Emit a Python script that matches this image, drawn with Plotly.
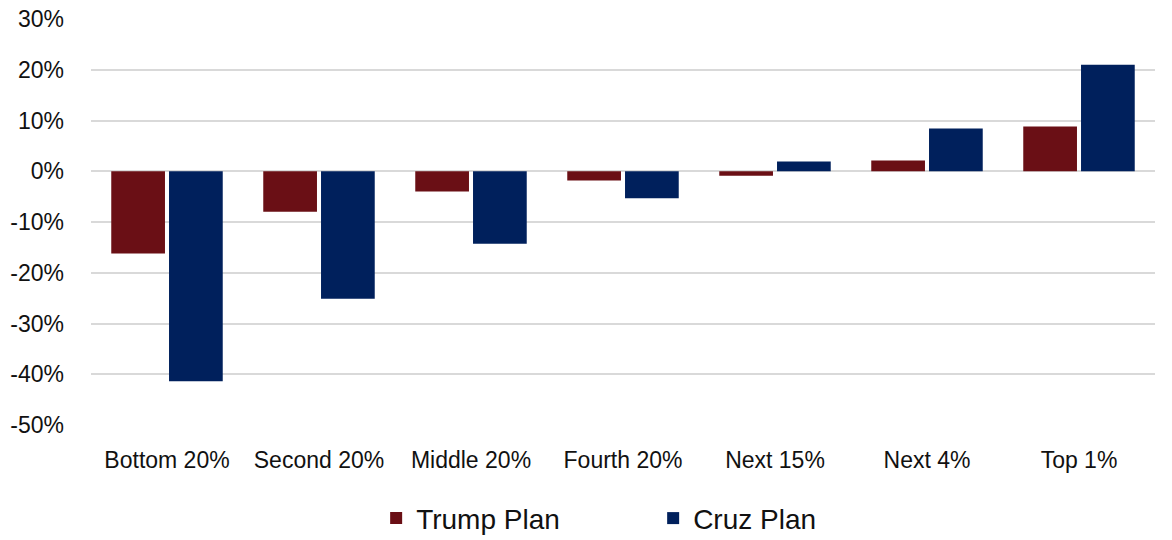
import plotly.graph_objects as go

# Income groups and change in after-tax income (%) under each plan
groups = ["Bottom 20%", "Second 20%", "Middle 20%", "Fourth 20%", "Next 15%", "Next 4%", "Top 1%"]
trump_plan = [-16.2, -8.0, -4.0, -1.8, -0.9, 2.1, 8.8]
cruz_plan = [-41.4, -25.1, -14.3, -5.3, 1.9, 8.4, 21.0]

tick_vals = [30, 20, 10, 0, -10, -20, -30, -40, -50]
tick_text = ["30%", "20%", "10%", "0%", "-10%", "-20%", "-30%", "-40%", "-50%"]

FONT = "Liberation Sans Narrow, Arial Narrow, Liberation Sans, sans-serif"

fig = go.Figure()
fig.add_trace(go.Bar(name="Trump Plan", x=groups, y=trump_plan,
                     marker=dict(color="#6A0F15", line=dict(width=0))))
fig.add_trace(go.Bar(name="Cruz Plan", x=groups, y=cruz_plan,
                     marker=dict(color="#00205C", line=dict(width=0))))

fig.update_layout(
    width=1172, height=540,
    margin=dict(l=91, r=17, t=19, b=115, autoexpand=False),
    paper_bgcolor="white", plot_bgcolor="white",
    barmode="group", bargap=0.24, bargroupgap=0.07,
    font=dict(family=FONT, size=23, color="#111111"),
    showlegend=True,
    legend=dict(orientation="h", x=0.268, xanchor="left",
                yref="container", y=0.04, yanchor="middle",
                font=dict(size=28), entrywidth=232,
                traceorder="normal"),
    xaxis=dict(showgrid=False, showline=False, ticks="", ticklabelstandoff=19,
               tickfont=dict(size=23)),
    yaxis=dict(range=[-50, 30], tickvals=tick_vals, ticktext=tick_text,
               showgrid=True, gridcolor="#D9D9D9", gridwidth=2,
               zeroline=True, zerolinecolor="#D9D9D9", zerolinewidth=2,
               showline=False, ticks="", ticklabelstandoff=26,
               tickfont=dict(size=23)),
)

fig.write_html("out.html")
